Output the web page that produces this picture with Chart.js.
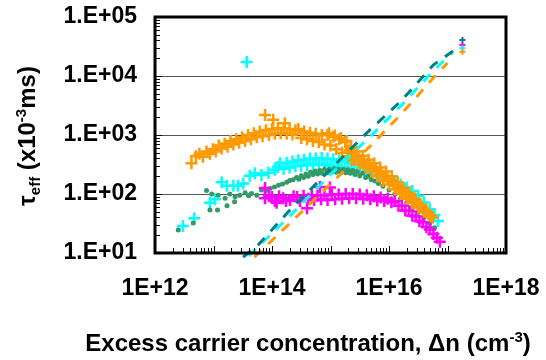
<!DOCTYPE html>
<html><head><meta charset="utf-8">
<script src="https://cdn.jsdelivr.net/npm/chart.js@4/dist/chart.umd.min.js"></script>
<style>html,body{margin:0;padding:0;background:#fff}#wrap{width:546px;height:360px;position:relative}</style>
</head><body><div id="wrap"><canvas id="c" width="546" height="360"></canvas></div>
<script>
// ---- tick labels ----
const xTickValues = [1e12, 1e14, 1e16, 1e18];
const xTickLabels = ['1E+12', '1E+14', '1E+16', '1E+18'];
const yTickValues = [1e1, 1e2, 1e3, 1e4, 1e5];
const yTickLabels = ['1.E+01', '1.E+02', '1.E+03', '1.E+04', '1.E+05'];

// ---- orange + series ----
const orangeX = [4.2e12,5.0e12,5.75e12,6.6e12,7.6e12,8.7e12,9.8e12,1.1e13,1.23e13,1.38e13,1.55e13,1.74e13,1.95e13,2.19e13,2.45e13,2.75e13,3.1e13,3.47e13,3.9e13,4.37e13,4.9e13,5.5e13,6.2e13,6.9e13,7.6e13,7.9e13,8.9e13,1.0e14,1.05e14,1.12e14,1.26e14,1.41e14,1.58e14,1.66e14,1.78e14,2.0e14,2.24e14,2.51e14,2.82e14,3.16e14,3.55e14,3.98e14,4.47e14,5.0e14,5.6e14,6.3e14,7.1e14,7.9e14,8.9e14,1.0e15,1.12e15,1.26e15,1.41e15,1.58e15,1.78e15,2.0e15,2.24e15,2.51e15,2.82e15,3.16e15,3.55e15,3.98e15,4.47e15,5.0e15,5.6e15,6.3e15,7.1e15,7.9e15,8.9e15,1.0e16,1.12e16,1.26e16,1.41e16,1.58e16,1.78e16,2.0e16,2.24e16,2.51e16,2.82e16,3.16e16,3.55e16,3.98e16,4.47e16,5.0e16,5.6e16,
  9.44e14,1.19e15,1.5e15,1.88e15,2.11e15,2.37e15,2.66e15,2.99e15,3.35e15,3.76e15,4.22e15,4.73e15,5.31e15,5.96e15,6.68e15,7.5e15,8.41e15,9.44e15,1.06e16,1.19e16,1.33e16,1.5e16,1.68e16,1.88e16,2.11e16,2.37e16,2.66e16,2.99e16,3.35e16,3.76e16,4.22e16,4.73e16,5.31e16];
const orangeY = [331,437,479,427,525,479,575,525,661,589,708,631,794,692,851,741,912,794,1000,851,1072,912,1148,955,2188,1202,1000,1259,1820,1047,1318,1072,1288,1585,1047,1259,1023,1202,1259,891,1148,851,1096,794,1047,759,1000,692,1000,661,933,575,851,501,759,437,603,380,525,316,447,282,380,240,331,200,282,166,240,145,200,120,158,100,126,83,105,71,83,59,66,50,52,43,40,
  1072,977,891,794,550,479,447,407,372,355,324,302,282,257,234,214,200,186,170,155,138,126,112,102,93,85,76,69,62,56,50,46,42];

// ---- cyan + series ----
const cyanX = [3.0e12,4.7e12,8.7e12,1.07e13,1.38e13,1.7e13,2.19e13,2.63e13,3.24e13,3.7e13,4.17e13,5.1e13,6.6e13,8.7e13,1.12e14,1.26e14,1.38e14,1.58e14,1.78e14,2.0e14,2.24e14,2.51e14,2.82e14,3.16e14,3.55e14,3.98e14,4.47e14,5.0e14,5.6e14,6.3e14,7.1e14,7.9e14,8.9e14,1.0e15,1.12e15,1.26e15,1.41e15,1.58e15,1.78e15,2.0e15,2.24e15,2.51e15,2.82e15,3.16e15,3.55e15,3.98e15,4.47e15,5.0e15,6.3e15,7.9e15,1.0e16,1.26e16,1.58e16,2.0e16,2.51e16,3.16e16,3.98e16,5.0e16,6.0e16,6.9e16];
const cyanY = [28.7,38.9,70.8,81.3,158,138,138,138,151,17300,204,224,209,229,257,288,331,269,339,282,355,295,372,302,380,309,398,316,398,316,407,309,398,302,389,295,372,282,355,269,339,251,316,234,288,219,257,209,200,182,170,158,145,129,112,93,72,55,44,35];

// ---- green dot series ----
const greenX = [2.5e12,4.5e12,7.6e12,8.7e12,9.3e12,1.17e13,1.2e13,1.58e13,1.7e13,1.9e13,2.29e13,2.34e13,2.82e13,3.47e13,3.98e13,4.47e13,5.5e13,6.6e13,7.9e13,9.3e13,1.1e14,1.29e14,1.51e14,1.78e14,2.0e14,2.29e14,2.63e14,2.88e14,3.16e14,3.47e14,3.8e14,4.17e14,4.57e14,5.0e14,5.5e14,6.0e14,6.6e14,7.2e14,7.9e14,8.7e14,9.5e14,1.05e15,1.15e15,1.26e15,1.38e15,1.51e15,1.66e15,1.82e15,2.0e15,2.19e15,2.4e15,2.63e15,2.88e15,3.16e15,3.55e15,3.98e15,4.47e15,5.0e15,5.75e15,6.6e15,7.9e15,1.0e16,1.26e16,1.58e16,2.0e16,2.51e16,3.16e16,3.98e16,5.0e16,6.0e16];
const greenY = [24.5,32.4,115,53.7,100,53.7,95.5,85.1,63.1,100,74.1,90.2,95.5,105,93.3,102,95.5,117,115,124,132,141,148,158,170,174,191,178,204,191,219,200,234,214,245,219,251,224,263,229,263,234,269,234,263,229,263,229,257,224,251,214,240,204,224,191,200,174,166,151,135,117,100,85.1,70.8,58.9,49,39.8,32.4,26.9];

// ---- magenta + series ----
const magentaX = [7.6e13,7.6e13,8.9e13,1.0e14,1.12e14,1.2e14,1.32e14,1.55e14,1.74e14,2.04e14,2.34e14,2.69e14,3.02e14,3.47e14,3.98e14,4.17e14,4.79e14,5.25e14,6.0e14,6.6e14,6.9e14,7.9e14,8.9e14,9.8e14,1.05e15,1.2e15,1.38e15,1.58e15,1.82e15,2.09e15,2.4e15,2.75e15,3.16e15,3.63e15,4.17e15,4.79e15,5.5e15,6.3e15,7.2e15,8.3e15,9.5e15,1.1e16,1.26e16,1.45e16,1.66e16,1.9e16,2.19e16,2.51e16,2.88e16,3.31e16,3.8e16,4.37e16,5.0e16,5.75e16,6.6e16,7.4e16];
const magentaY = [126,85.1,93.3,89.1,75.9,70.8,91.2,85.1,75.9,79.4,91.2,89.1,75.9,93.3,57.5,83.2,95.5,79.4,93.3,132,81.3,95.5,79.4,129,97.7,81.3,97.7,83.2,100,85.1,100,85.1,97.7,83.2,95.5,81.3,91.2,77.6,87.1,75.9,83.2,72.4,75.9,63.1,63.1,52.5,51.3,42.7,41.7,34.7,33.1,27.5,25.1,20.9,18.2,15.5];

// ---- dashed fit lines ----
const tealLineX = [3.2e13,5.5e13,1.9e14,1e15,4.4e15,1.66e16,5.75e16,1.45e17];
const tealLineY = [8.5,12.9,50,263,1140,3890,15500,29500];
const cyanLineX = [4e13,1.9e14,1e15,4.7e15,1.66e16,5.75e16,1.2e17];
const cyanLineY = [8.9,40,214,930,3240,12300,24500];
const orangeLineX = [5e13,2e14,1e15,5e15,1.6e16,5.75e16,1e17];
const orangeLineY = [8.5,31.6,148,676,2240,9330,16600];

// ---- end markers ----
const endX = [1.8e17,1.8e17,1.8e17,1.8e17];
const endY = [40700,33500,29500,25700];
const endColors = ['#008080','#FF00FF','#00FFFF','#FF9900'];

const FONT = '"Liberation Sans", Arial, Helvetica, sans-serif';
function pts(xs, ys) { return xs.map((x, i) => ({ x: x, y: ys[i] })); }

const framePlugin = {
  id: 'frame',
  afterDraw(chart) {
    const ctx = chart.ctx, a = chart.chartArea;
    const xs = chart.scales.x, ys = chart.scales.y;
    ctx.save();
    ctx.strokeStyle = '#000';
    ctx.lineWidth = 1;
    ctx.beginPath();
    for (let e = 12; e < 18; e++) {
      for (let k = 1; k <= 9; k++) {
        const px = Math.round(xs.getPixelForValue(k * Math.pow(10, e))) + 0.5;
        const len = k === 1 ? 7 : 5;
        ctx.moveTo(px, a.bottom); ctx.lineTo(px, a.bottom - len);
      }
    }
    for (let e = 1; e < 5; e++) {
      for (let k = 1; k <= 9; k++) {
        const py = Math.round(ys.getPixelForValue(k * Math.pow(10, e))) + 0.5;
        const len = k === 1 ? 7 : 5;
        ctx.moveTo(a.left, py); ctx.lineTo(a.left + len, py);
      }
    }
    ctx.stroke();
    ctx.lineWidth = 3;
    ctx.strokeRect(a.left, a.top, a.right - a.left, a.bottom - a.top);

    // x title
    ctx.fillStyle = '#000';
    ctx.textBaseline = 'alphabetic';
    const big = 'bold 24px ' + FONT, small = 'bold 15px ' + FONT;
    const p1 = 'Excess carrier concentration, \u0394n (cm', p2 = '-3', p3 = ')';
    ctx.font = big; const w1 = ctx.measureText(p1).width, w3 = ctx.measureText(p3).width;
    ctx.font = small; const w2 = ctx.measureText(p2).width;
    let x0 = 308 - (w1 + w2 + w3) / 2, yb = 351;
    ctx.font = big; ctx.fillText(p1, x0, yb);
    ctx.font = small; ctx.fillText(p2, x0 + w1, yb - 9);
    ctx.font = big; ctx.fillText(p3, x0 + w1 + w2, yb);

    // y title (rotated)
    const parts = [['\u03C4', big, 0], ['eff', small, 5], [' (x10', big, 0], ['-3', small, -9], ['ms)', big, 0]];
    let tw = 0;
    parts.forEach(p => { ctx.font = p[1]; p.push(ctx.measureText(p[0]).width); tw += p[3]; });
    ctx.translate(35, 136);
    ctx.rotate(-Math.PI / 2);
    let cx = -tw / 2;
    parts.forEach(p => { ctx.font = p[1]; ctx.fillText(p[0], cx, p[2]); cx += p[3]; });
    ctx.restore();
  }
};

const tickFont = { family: FONT, size: 23, weight: 'bold' };

new Chart(document.getElementById('c'), {
  type: 'scatter',
  data: {
    datasets: [
      { label: 'fit teal', data: pts(tealLineX, tealLineY), showLine: true, borderColor: '#008080', borderWidth: 3, borderDash: [10, 9], pointRadius: 0, clip: false },
      { label: 'fit cyan', data: pts(cyanLineX, cyanLineY), showLine: true, borderColor: '#00FFFF', borderWidth: 3, borderDash: [10, 9], pointRadius: 0, clip: false },
      { label: 'fit orange', data: pts(orangeLineX, orangeLineY), showLine: true, borderColor: '#FF9900', borderWidth: 3, borderDash: [10, 9], pointRadius: 0, clip: false },
      { label: 'ends', data: pts(endX, endY), pointStyle: 'cross', pointRadius: 3, borderWidth: 2, borderColor: endColors, backgroundColor: endColors },
      { label: 'orange', data: pts(orangeX, orangeY), pointStyle: 'cross', pointRadius: 6, borderWidth: 2.5, borderColor: '#FF9900', backgroundColor: '#FF9900' },
      { label: 'magenta', data: pts(magentaX, magentaY), pointStyle: 'cross', pointRadius: 6, borderWidth: 2.5, borderColor: '#FF00FF', backgroundColor: '#FF00FF' },
      { label: 'green', data: pts(greenX, greenY), pointStyle: 'circle', pointRadius: 2.5, borderWidth: 0, borderColor: '#339966', backgroundColor: '#339966' },
      { label: 'cyan', data: pts(cyanX, cyanY), pointStyle: 'cross', pointRadius: 6, borderWidth: 2.5, borderColor: '#00FFFF', backgroundColor: '#00FFFF' }
    ]
  },
  options: {
    responsive: false,
    animation: false,
    devicePixelRatio: 1,
    layout: { padding: { top: 17, right: 40, left: 0, bottom: 0 } },
    plugins: { legend: { display: false }, tooltip: { enabled: false } },
    scales: {
      x: {
        type: 'logarithmic', min: 1e12, max: 1e18,
        afterBuildTicks: s => { s.ticks = xTickValues.map(v => ({ value: v })); },
        afterFit: s => { s.height = 107; s.paddingLeft = 0; s.paddingRight = 0; },
        ticks: { autoSkip: false, maxRotation: 0, minRotation: 0, padding: 22, color: '#000', font: tickFont,
                 callback: (v, i) => xTickLabels[i] },
        grid: { display: false, drawTicks: false },
        border: { display: false }
      },
      y: {
        type: 'logarithmic', min: 1e1, max: 1e5,
        afterBuildTicks: s => { s.ticks = yTickValues.map(v => ({ value: v })); },
        afterFit: s => { s.width = 155; s.paddingTop = 0; s.paddingBottom = 0; },
        ticks: { autoSkip: false, padding: 18, color: '#000', font: tickFont,
                 callback: (v, i) => yTickLabels[i] },
        grid: { drawTicks: false, lineWidth: 1,
                color: c => (c.tick && [1e2, 1e3, 1e4].includes(c.tick.value)) ? '#555' : 'rgba(0,0,0,0)' },
        border: { display: false }
      }
    }
  },
  plugins: [framePlugin]
});
</script></body></html>
